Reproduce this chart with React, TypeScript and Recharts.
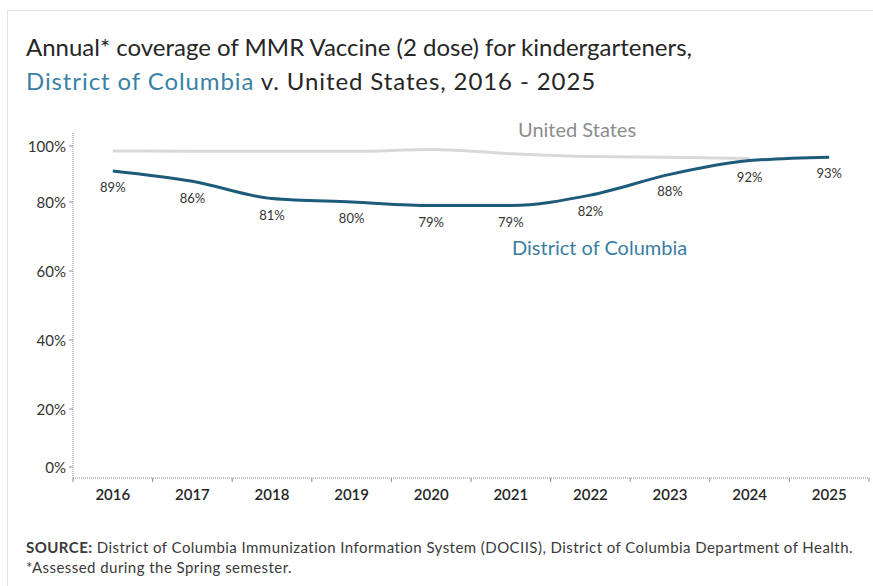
import { LineChart, Line, XAxis, YAxis, LabelList } from 'recharts'

const years = ['2016', '2017', '2018', '2019', '2020', '2021', '2022', '2023', '2024', '2025']
const dcCoverage = [89, 86, 81, 80, 79, 79, 82, 88, 92, 93]
const usCoverage = [94.8, 94.7, 94.7, 94.7, 95.2, 94.0, 93.2, 93.0, 92.6, null]
const yTicks = [0, 20, 40, 60, 80, 100]

const data = years.map((year, i) => ({ year, dc: dcCoverage[i], us: usCoverage[i] }))

const W = 873
const H = 586
const PLOT_LEFT = 73
const PLOT_RIGHT = 869
const PLOT_TOP = 133
const PLOT_BOTTOM = 478
const HALF_BAND = (PLOT_RIGHT - PLOT_LEFT) / years.length / 2

const DC_COLOR = '#1d5b7a'
const US_COLOR = '#d9d9d9'
const FONT = 'Lato, "Open Sans", sans-serif'

function YTick({ y, payload }: any) {
  // end labels sit a little inside the axis range
  const shift = payload.value === 100 ? 13 : payload.value === 0 ? -11 : 0
  return (
    <g>
      <line x1={PLOT_LEFT - 4} x2={PLOT_LEFT} y1={y + shift} y2={y + shift} stroke="#8c8c8c" />
      <text
        x={PLOT_LEFT - 7}
        y={y + shift}
        textAnchor="end"
        dominantBaseline="central"
        fontSize={15}
        fill="#333"
        fontFamily={FONT}
      >
        {payload.value}%
      </text>
    </g>
  )
}

function XTick({ x, payload, index }: any) {
  return (
    <g>
      <line x1={x - HALF_BAND} x2={x - HALF_BAND} y1={PLOT_BOTTOM} y2={PLOT_BOTTOM + 4} stroke="#8c8c8c" />
      {index === years.length - 1 && (
        <line x1={x + HALF_BAND} x2={x + HALF_BAND} y1={PLOT_BOTTOM} y2={PLOT_BOTTOM + 4} stroke="#8c8c8c" />
      )}
      <text
        x={x}
        y={PLOT_BOTTOM + 16}
        textAnchor="middle"
        dominantBaseline="central"
        fontSize={15}
        fontWeight={600}
        fill="#262626"
        fontFamily={FONT}
      >
        {payload.value}
      </text>
    </g>
  )
}

export default function App() {
  return (
    <div style={{ position: 'absolute', left: 0, top: 0, width: W, height: H, background: '#fff', overflow: 'hidden', fontFamily: FONT }}>
      <div style={{ position: 'absolute', left: 7, top: 10, right: -2, bottom: -2, borderLeft: '1px solid #e3e3e3', borderTop: '1px solid #e3e3e3' }} />

      <div style={{ position: 'absolute', left: 26, top: 30, fontSize: 24, lineHeight: '34px', color: '#262626', whiteSpace: 'nowrap' }}>
        Annual* coverage of MMR Vaccine (2 dose) for kindergarteners,
        <br />
        <span style={{ letterSpacing: 0.9 }}>
          <span style={{ color: '#3a82a6' }}>District of Columbia</span> v. United States, 2016 - 2025
        </span>
      </div>

      <LineChart
        width={W}
        height={H}
        data={data}
        margin={{ top: PLOT_TOP, right: W - PLOT_RIGHT, bottom: H - PLOT_BOTTOM - 30, left: 0 }}
        style={{ position: 'absolute', left: 0, top: 0 }}
      >
        <YAxis
          domain={[0, 100]}
          ticks={yTicks}
          width={PLOT_LEFT}
          axisLine={{ stroke: '#8c8c8c', strokeDasharray: '1 1' }}
          tickLine={false}
          tick={<YTick />}
        />
        <XAxis
          dataKey="year"
          height={30}
          padding={{ left: HALF_BAND, right: HALF_BAND }}
          axisLine={{ stroke: '#8c8c8c', strokeDasharray: '1 1' }}
          tickLine={false}
          tick={<XTick />}
          interval={0}
        />
        <Line
          type="monotone"
          dataKey="us"
          stroke={US_COLOR}
          strokeWidth={3}
          dot={false}
          isAnimationActive={false}
        />
        <Line
          type="monotone"
          dataKey="dc"
          stroke={DC_COLOR}
          strokeWidth={3}
          dot={false}
          isAnimationActive={false}
        >
          <LabelList
            dataKey="dc"
            position="bottom"
            offset={12}
            formatter={(v: any) => `${v}%`}
            style={{ fontSize: 13, fill: '#333', fontFamily: FONT }}
          />
        </Line>
      </LineChart>

      <div style={{ position: 'absolute', left: 518, top: 117, fontSize: 20, color: '#8c8c8c', whiteSpace: 'nowrap' }}>United States</div>
      <div style={{ position: 'absolute', left: 512, top: 235, fontSize: 20, color: '#3a7ea1', whiteSpace: 'nowrap' }}>District of Columbia</div>

      <div style={{ position: 'absolute', left: 26, top: 537, fontSize: 15, letterSpacing: 0.45, lineHeight: '20px', color: '#3a3a3a', whiteSpace: 'nowrap' }}>
        <b>SOURCE:</b> District of Columbia Immunization Information System (DOCIIS), District of Columbia Department of Health.
        <br />
        *Assessed during the Spring semester.
      </div>
    </div>
  )
}
